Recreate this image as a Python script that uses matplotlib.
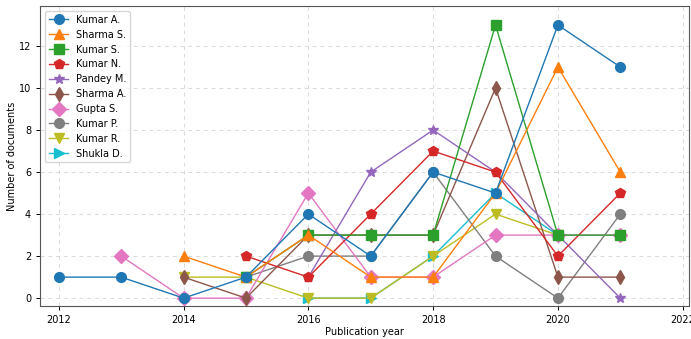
import matplotlib
matplotlib.use("Agg")
import matplotlib.pyplot as plt

# Documents per publication year for the most productive authors
authors = ["Kumar A.", "Sharma S.", "Kumar S.", "Kumar N.", "Pandey M.",
           "Sharma A.", "Gupta S.", "Kumar P.", "Kumar R.", "Shukla D."]

kumar_a_years = [2012, 2013, 2014, 2015, 2016, 2017, 2018, 2019, 2020, 2021]
kumar_a_docs = [1, 1, 0, 1, 4, 2, 6, 5, 13, 11]

sharma_s_years = [2014, 2015, 2016, 2017, 2018, 2019, 2020, 2021]
sharma_s_docs = [2, 1, 3, 1, 1, 5, 11, 6]

kumar_s_years = [2015, 2016, 2017, 2018, 2019, 2020, 2021]
kumar_s_docs = [1, 3, 3, 3, 13, 3, 3]

kumar_n_years = [2015, 2016, 2017, 2018, 2019, 2020, 2021]
kumar_n_docs = [2, 1, 4, 7, 6, 2, 5]

pandey_m_years = [2016, 2017, 2018, 2019, 2020, 2021]
pandey_m_docs = [1, 6, 8, 6, 3, 0]

sharma_a_years = [2014, 2015, 2016, 2017, 2018, 2019, 2020, 2021]
sharma_a_docs = [1, 0, 3, 3, 3, 10, 1, 1]

gupta_s_years = [2013, 2014, 2015, 2016, 2017, 2018, 2019, 2020, 2021]
gupta_s_docs = [2, 0, 0, 5, 1, 1, 3, 3, 3]

kumar_p_years = [2015, 2016, 2017, 2018, 2019, 2020, 2021]
kumar_p_docs = [1, 2, 2, 6, 2, 0, 4]

kumar_r_years = [2014, 2015, 2016, 2017, 2018, 2019, 2020]
kumar_r_docs = [1, 1, 0, 0, 2, 4, 3]

shukla_d_years = [2016, 2017, 2018, 2019, 2020]
shukla_d_docs = [0, 0, 2, 5, 3]

series = [
    (kumar_a_years, kumar_a_docs),
    (sharma_s_years, sharma_s_docs),
    (kumar_s_years, kumar_s_docs),
    (kumar_n_years, kumar_n_docs),
    (pandey_m_years, pandey_m_docs),
    (sharma_a_years, sharma_a_docs),
    (gupta_s_years, gupta_s_docs),
    (kumar_p_years, kumar_p_docs),
    (kumar_r_years, kumar_r_docs),
    (shukla_d_years, shukla_d_docs),
]

markers = ["o", "^", "s", "p", "*", "d", "D", "o", "v", ">"]
colors = plt.rcParams["axes.prop_cycle"].by_key()["color"]

fig = plt.figure(figsize=(6.91, 3.39), dpi=100)
ax = fig.add_axes([0.058, 0.097, 0.939, 0.885])

# draw the last author first so the leading authors sit on top
handles = [None] * len(authors)
for i in reversed(range(len(authors))):
    x, y = series[i]
    (ln,) = ax.plot(x, y, marker=markers[i], color=colors[i], linewidth=1.0,
                    markersize=7, label=authors[i])
    handles[i] = ln

ax.set_xlim(2011.7, 2022.1)
ax.set_ylim(-0.38, 13.9)
ax.set_xticks(range(2012, 2023, 2))
ax.set_yticks(range(0, 13, 2))
ax.tick_params(labelsize=7, length=3, width=0.7)
ax.grid(True, linestyle=(0, (4, 4)), color="#d9d9d9", linewidth=0.7)
ax.set_axisbelow(True)
for sp in ax.spines.values():
    sp.set_color("#555555")
    sp.set_linewidth(0.8)

ax.set_xlabel("Publication year", fontsize=7, labelpad=1.5)
ax.set_ylabel("Number of documents", fontsize=7, labelpad=1.5)
ax.legend(handles, authors, loc="upper left", fontsize=7)

fig.savefig("out.png", dpi=100)
